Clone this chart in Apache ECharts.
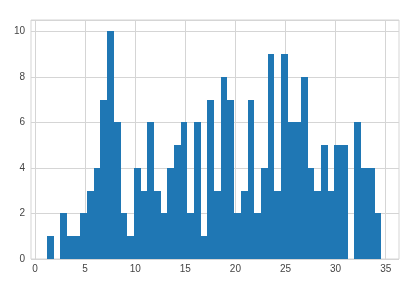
<!DOCTYPE html>
<html>
<head>
<meta charset="utf-8">
<script src="https://cdn.jsdelivr.net/npm/echarts@6/dist/echarts.min.js"></script>
<style>html,body{margin:0;padding:0;background:#fff}#c{width:410px;height:282px}</style>
</head>
<body>
<div id="c"></div>
<script>
// Histogram data (50 bins)
var binStart = 1.2;
var binWidth = 0.667;
var counts = [1,0,2,1,1,2,3,4,7,10,6,2,1,4,3,6,3,2,4,5,6,2,6,1,7,3,8,7,2,3,7,2,4,9,3,9,6,6,8,4,3,5,3,5,5,0,6,4,4,2];
var xTicks = [0,5,10,15,20,25,30,35];
var yTicks = [0,2,4,6,8,10];

var bins = counts.map(function (c, i) {
  return [binStart + i * binWidth, binStart + (i + 1) * binWidth, c];
});

var gridColor = '#d5d5d5';
var textColor = '#444444';
var font = 'Liberation Sans';

var chart = echarts.init(document.getElementById('c'), null, {renderer: 'canvas'});
chart.setOption({
  animation: false,
  backgroundColor: '#ffffff',
  grid: [
    {left: 31, right: 11, top: 20, bottom: 23, show: true, borderColor: gridColor, borderWidth: 1, backgroundColor: 'transparent'},
    {left: 35, right: 24.3, top: 20, bottom: 23, show: false}
  ],
  xAxis: [
    {gridIndex: 0, type: 'value', show: false, min: -0.45, max: 36.3},
    {gridIndex: 1, type: 'value', min: xTicks[0], max: xTicks[xTicks.length - 1], interval: 5,
      axisLine: {show: false}, axisTick: {show: false},
      splitLine: {show: true, lineStyle: {color: gridColor, width: 1}},
      axisLabel: {color: textColor, fontSize: 10, fontFamily: font, margin: 5}}
  ],
  yAxis: [
    {gridIndex: 0, type: 'value', min: 0, max: 10.5, interval: 2,
      axisLine: {show: false}, axisTick: {show: false},
      splitLine: {show: true, lineStyle: {color: gridColor, width: 1}},
      axisLabel: {color: textColor, fontSize: 10, fontFamily: font, margin: 6, showMaxLabel: false,
        formatter: function (v) { return yTicks.indexOf(v) >= 0 ? String(v) : ''; }}},
    {gridIndex: 1, type: 'value', min: 0, max: 10.5, show: false}
  ],
  series: [{
    type: 'custom',
    xAxisIndex: 1,
    yAxisIndex: 1,
    data: bins,
    encode: {x: [0, 1], y: 2},
    renderItem: function (params, api) {
      var p0 = api.coord([api.value(0), 0]);
      var p1 = api.coord([api.value(1), api.value(2)]);
      var x0 = Math.round(p0[0]), x1 = Math.round(p1[0]);
      var yb = Math.round(p0[1]), yt = Math.round(p1[1]);
      return {
        type: 'rect',
        shape: {x: x0, y: yt, width: x1 - x0, height: yb - yt},
        style: {fill: '#1f77b4', stroke: null}
      };
    }
  }]
});
</script>
</body>
</html>
